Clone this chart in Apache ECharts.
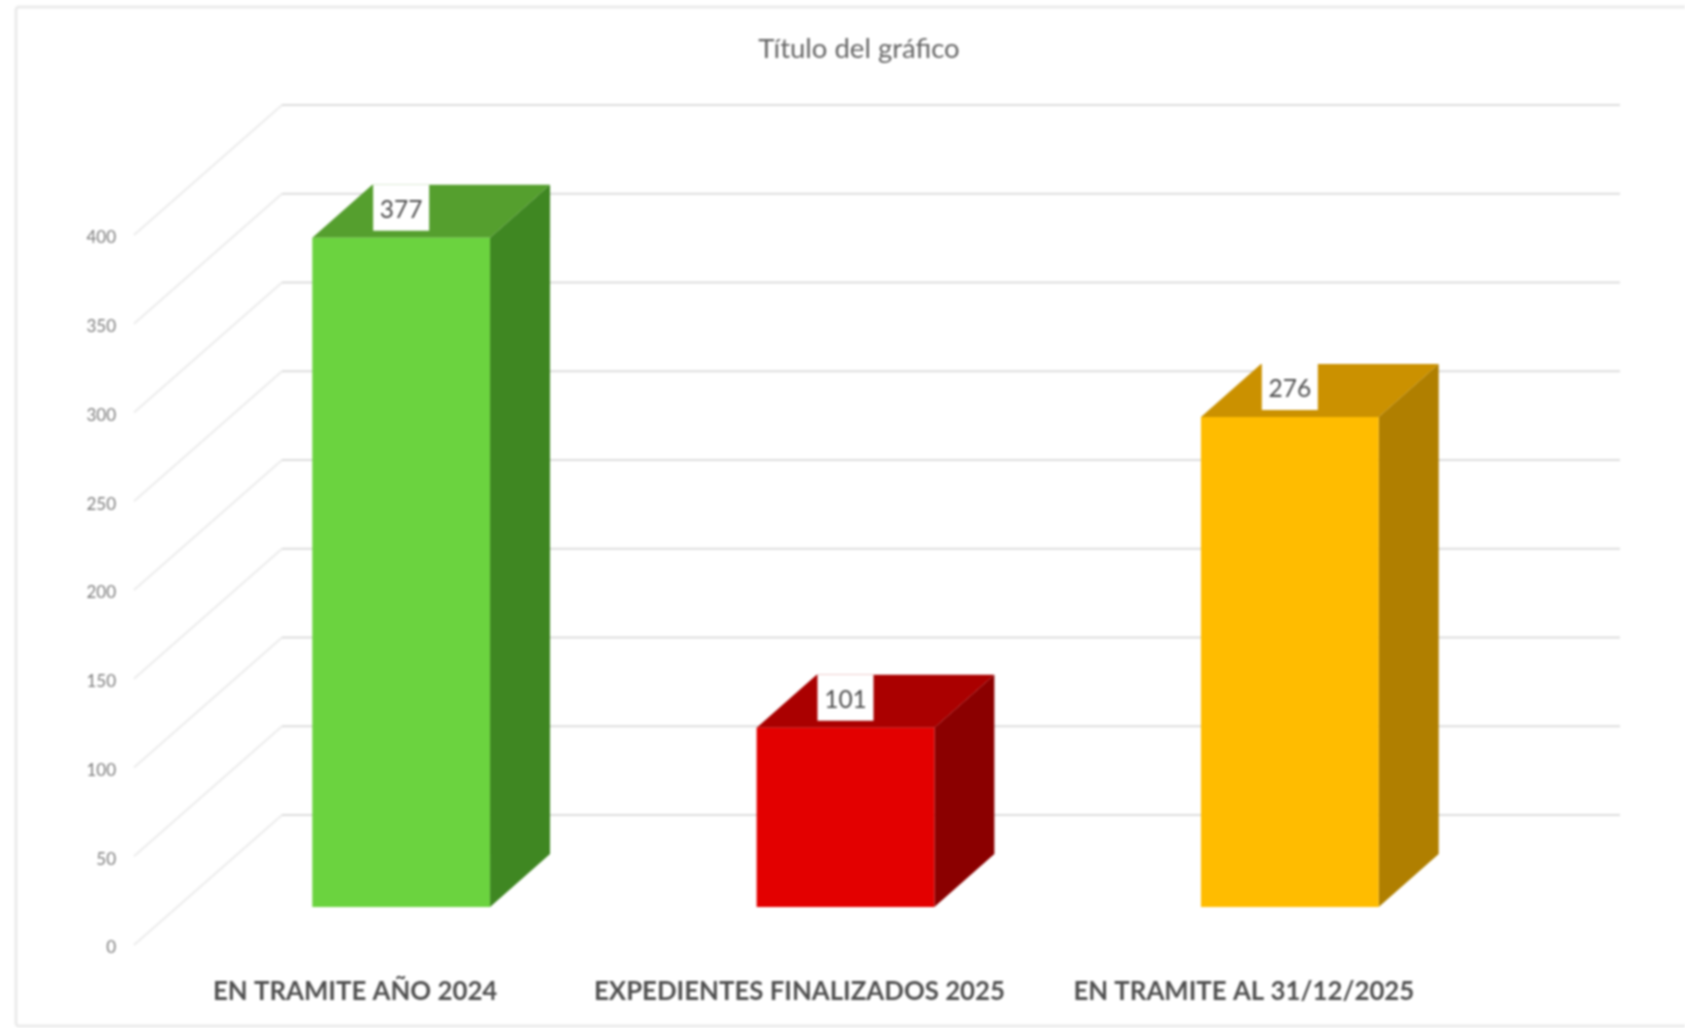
<!DOCTYPE html>
<html>
<head>
<meta charset="utf-8">
<style>
html,body{margin:0;padding:0;background:#fff;overflow:hidden}
#chart{width:1685px;height:1028px;filter:blur(0.8px)}
</style>
<script src="https://cdn.jsdelivr.net/npm/echarts@6/dist/echarts.min.js"></script>
</head>
<body>
<div id="chart"></div>
<script>
const chartTitle = 'Título del gráfico';
const categories = ['EN TRAMITE AÑO 2024', 'EXPEDIENTES FINALIZADOS 2025', 'EN TRAMITE AL 31/12/2025'];
const values = [377, 101, 276];
const yTicks = [0, 50, 100, 150, 200, 250, 300, 350, 400];

const frontColors = ['#6BD33F', '#E30000', '#FFBC00'];
const topColors = ['#559F2E', '#AA0000', '#CB9100'];
const sideColors = ['#3F8722', '#8B0000', '#B07F00'];

const FONT = 'Lato, "Open Sans", sans-serif';
const BAR_DX = 46, BAR_DY = -38;      // bars stand part-way into the floor
const DEPTH_X = 60, DEPTH_Y = -53;    // bar depth
const WALL_DX = 148, WALL_DY = -130;  // back wall offset
const WALL_RIGHT = 1620;

const chart = echarts.init(document.getElementById('chart'), null, {renderer: 'canvas'});

function renderWall(params, api) {
  const p = api.coord([0, api.value(0)]);
  const x0 = params.coordSys.x + 1;
  const y = p[1];
  return {
    type: 'group',
    children: [
      {type: 'line', shape: {x1: x0, y1: y, x2: x0 + WALL_DX, y2: y + WALL_DY},
       style: {stroke: '#ECECEC', lineWidth: 2}},
      {type: 'line', shape: {x1: x0 + WALL_DX, y1: y + WALL_DY, x2: WALL_RIGHT, y2: y + WALL_DY},
       style: {stroke: '#DDDDDD', lineWidth: 2}}
    ]
  };
}

function renderBar(params, api) {
  const i = api.value(0), v = api.value(1);
  const top = api.coord([i, v]), bottom = api.coord([i, 0]);
  const half = api.size([1, 0])[0] * 0.2;
  const l = top[0] + BAR_DX - half, r = top[0] + BAR_DX + half;
  const yt = top[1] + BAR_DY, yb = bottom[1] + BAR_DY;
  const c = top[0] + BAR_DX;
  const poly = (points, fill) => ({type: 'polygon', shape: {points}, style: {fill}});
  return {
    type: 'group',
    children: [
      poly([[l, yt], [l + DEPTH_X, yt + DEPTH_Y], [r + DEPTH_X, yt + DEPTH_Y], [r, yt]], topColors[i]),
      poly([[r, yt], [r + DEPTH_X, yt + DEPTH_Y], [r + DEPTH_X, yb + DEPTH_Y], [r, yb]], sideColors[i]),
      poly([[l, yt], [r, yt], [r, yb], [l, yb]], frontColors[i]),
      {type: 'rect', shape: {x: c - 28, y: yt + DEPTH_Y, width: 56, height: 46}, style: {fill: '#FFFFFF'}},
      {type: 'text', x: c, y: yt + DEPTH_Y + 25,
       style: {text: String(v), fill: '#4F4F4F', font: '24.5px ' + FONT, align: 'center', verticalAlign: 'middle'}}
    ]
  };
}

chart.setOption({
  animation: false,
  backgroundColor: '#FFFFFF',
  title: {
    text: chartTitle, left: 854, top: 30, textAlign: 'center',
    textStyle: {fontFamily: FONT, fontSize: 27.5, fontWeight: 'normal', color: '#666666'}
  },
  graphic: [{
    type: 'rect', silent: true, z: -1,
    shape: {x: 16, y: 7, width: 1700, height: 1019, r: 3},
    style: {fill: 'none', stroke: '#EBEBEB', lineWidth: 3}
  }],
  grid: {left: 133, top: 235, width: 1333, height: 710},
  xAxis: {
    type: 'category', data: categories,
    axisLine: {show: false}, axisTick: {show: false},
    axisLabel: {
      interval: 0, margin: 34, fontFamily: FONT, fontSize: 25.8, fontWeight: 'bold', color: '#505050'
    }
  },
  yAxis: {
    type: 'value', min: 0, max: 400, interval: 50,
    axisLine: {show: false}, axisTick: {show: false}, splitLine: {show: false},
    axisLabel: {margin: 17, fontFamily: FONT, fontSize: 17, color: '#7D7D7D', verticalAlign: 'top', lineHeight: 6}
  },
  series: [
    {type: 'custom', silent: true, z: 1, clip: false, renderItem: renderWall,
     data: yTicks.map(t => [t]), encode: {y: 0}},
    {type: 'custom', silent: true, z: 2, clip: false, renderItem: renderBar,
     data: values.map((v, i) => [i, v]), encode: {x: 0, y: 1}}
  ]
});
</script>
</body>
</html>
